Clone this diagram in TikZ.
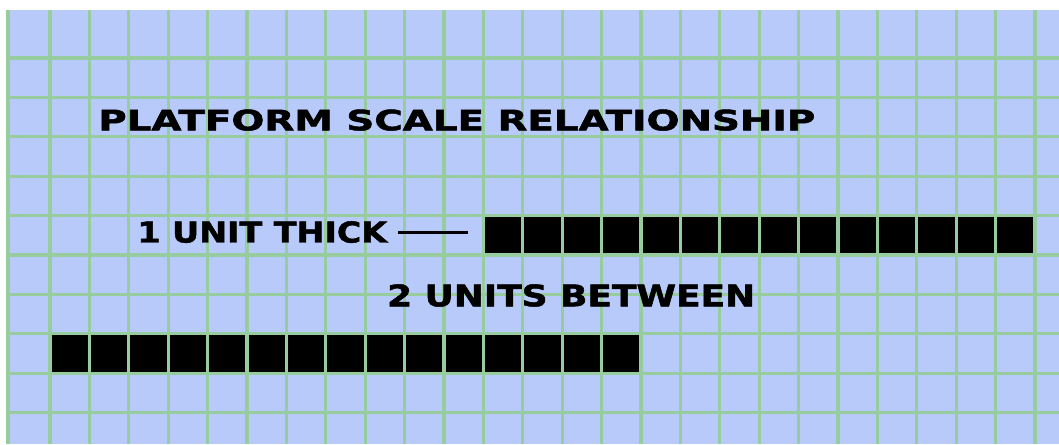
\documentclass[tikz,border=0pt]{standalone}
\usepackage{fontspec}
\setmainfont{DejaVu Sans}
\newfontfamily\platefont{DejaVu Sans}[UprightFont=* Bold,FakeBold=1.6]
\usepackage{graphicx}
\usepackage{tikz}
\definecolor{PaperBlue}{RGB}{184,202,250}
\definecolor{GridGreen}{RGB}{150,204,158}
\tikzset{
  gridline/.style={draw=GridGreen,line width=2.2pt},
  bar/.style={fill=black,inner sep=0pt,minimum height=1cm},
  caption/.style={anchor=south west,inner sep=0pt,font=\platefont},
  rule/.style={draw=black,line width=2.2pt},
}

\begin{document}
\begin{tikzpicture}[x=1cm,y=1cm]
\useasboundingbox[fill=white] (-1.269,-0.797) rectangle (25.609,10.472);
\fill[PaperBlue] (-1.091,-0.797) rectangle (25.609,10.218);
\node[bar,minimum width=14cm] (upper) at (18,4.5) {};
\node[bar,minimum width=15cm] (lower) at (7.5,1.5) {};
\draw[gridline,xstep=1,ystep=100] (-0.5,-0.797) grid (25.609,10.218);
\draw[gridline,xstep=100,ystep=1] (-1.091,-0.797) grid (25.609,9.5);
\draw[gridline] (-1.066,-0.797) -- (-1.066,10.218);
\node[caption] (title) at (1.218,7.147) {\resizebox{18.2cm}{0.53cm}{PLATFORM SCALE RELATIONSHIP}};
\node[caption] (thick) at (2.21,4.30) {\resizebox{6.34cm}{0.54cm}{1 UNIT THICK}};
\node[caption] (between) at (8.55,2.68) {\resizebox{9.34cm}{0.56cm}{2 UNITS BETWEEN}};
\draw[rule,shorten <=0.26cm,shorten >=0.39cm] (thick.east) -- (thick.east -| upper.west);
\end{tikzpicture}
\end{document}
